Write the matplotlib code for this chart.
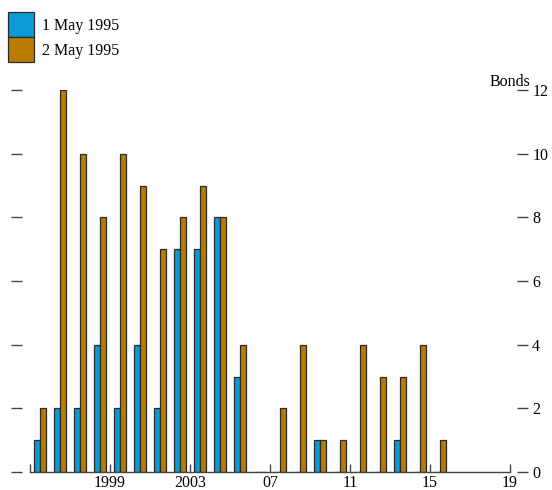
import numpy as np
import matplotlib
matplotlib.use('Agg')
import matplotlib.pyplot as plt

# data: number of bonds maturing in each year
years = np.arange(1995, 2016)
may1 = [1, 2, 2, 4, 2, 4, 2, 7, 7, 8, 3, 0, 0, 0, 1, 0, 0, 0, 1, 0, 0]
may2 = [2, 12, 10, 8, 10, 9, 7, 8, 9, 8, 4, 0, 2, 4, 1, 1, 4, 3, 3, 4, 1]
labels = ['1 May 1995', '2 May 1995']
xticks = [1995, 1999, 2003, 2007, 2011, 2015, 2019]
xticklabels = ['', '1999', '2003', '07', '11', '15', '19']
yticks = [0, 2, 4, 6, 8, 10, 12]

blue = '#0a9ad6'
gold = '#b77c00'
edge = '#2a2a2a'

plt.rcParams['font.family'] = ['Liberation Serif', 'DejaVu Serif']
plt.rcParams['font.size'] = 11.5

fig = plt.figure(figsize=(5.52, 4.9), dpi=100)
ax = fig.add_axes([30 / 552, 1 - 472 / 490, 480 / 552, (472 - 90) / 490])

w = 0.32
b1 = ax.bar(years + 0.5 - w / 2, may1, width=w, color=blue, edgecolor=edge, linewidth=0.9, label=labels[0])
b2 = ax.bar(years + 0.5 + w / 2, may2, width=w, color=gold, edgecolor=edge, linewidth=0.9, label=labels[1])

ax.set_xlim(1995, 2019)
ax.set_ylim(0, 12)

for s in ['top', 'left', 'right']:
    ax.spines[s].set_visible(False)
ax.spines['bottom'].set_color('#444444')
ax.spines['bottom'].set_linewidth(1)

ax.set_xticks(xticks)
ax.set_xticklabels(xticklabels)
ax.tick_params(axis='x', direction='in', length=6, width=1, color='#444444', pad=2)

# y ticks sit away from the plot on both sides, labels only on the right
ax.spines['left'].set_position(('outward', 5.8))
ax.spines['right'].set_position(('outward', 5))
ax.set_yticks(yticks)
ax.tick_params(axis='y', direction='out', length=8, width=1, color='#444444',
               left=True, right=True, labelleft=False, labelright=True, pad=3)

ax.text(1.0 + 20 / 480, 1.0 + 4 / 382, 'Bonds', transform=ax.transAxes, ha='right', va='baseline')

fig.legend(handles=[b1, b2], labels=labels, loc='upper left',
           bbox_to_anchor=(8 / 552, 1 - 12 / 490), frameon=False, borderpad=0,
           borderaxespad=0, handlelength=1.63, handleheight=2.03, labelspacing=0,
           handletextpad=0.5)

fig.savefig('out.png', dpi=100)
